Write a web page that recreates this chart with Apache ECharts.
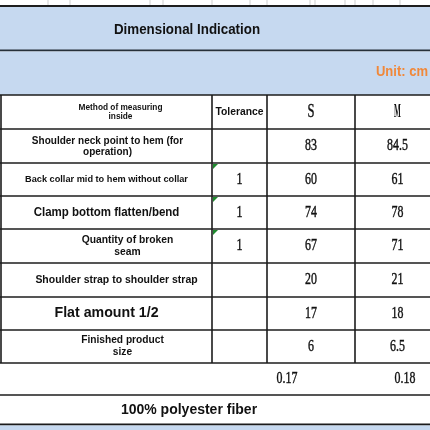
<!DOCTYPE html>
<html><head><meta charset="utf-8">
<script src="https://cdn.jsdelivr.net/npm/echarts@6/dist/echarts.min.js"></script>
<style>html,body{margin:0;padding:0;background:#fff;overflow:hidden}#c{width:430px;height:430px}</style>
</head><body><div id="c"></div>
<script>
// ---- data ----
const title = 'Dimensional Indication';
const unitLabel = 'Unit: cm';
const headers = ['Method of measuring\ninside', 'Tolerance', 'S', 'M'];
const measures = [
  'Shoulder neck point to hem (for\noperation)',
  'Back collar mid to hem without collar',
  'Clamp bottom flatten/bend',
  'Quantity of broken\nseam',
  'Shoulder strap to shoulder strap',
  'Flat amount 1/2',
  'Finished product\nsize'
];
const tolerance = ['', 1, 1, 1, '', '', ''];
const sizeS = [83, 60, 74, 67, 20, 17, 6];
const sizeM = [84.5, 61, 78, 71, 21, 18, 6.5];
const weights = [0.17, 0.18];
const material = '100% polyester fiber';

// ---- layout (pixels in a 430x430 value space) ----
const colEdges = [1, 212, 267, 355, 440];
const rowEdges = [95, 129, 163, 196, 229, 263, 297, 330, 363];
const LBL = '"Liberation Sans",Arial,sans-serif';
const NUM = '"Liberation Serif","Times New Roman",serif';
const NUM_FONT = '17px ' + NUM;
const NUM_SCALE = 0.7;
const labelFonts = [11, 9.2, 13, 10.3, 11.5, 14.2, 10.2];
const labelScale = [0.91, 1, 0.885, 1, 0.91, 1, 1];
const labelDx = [1, 0, 0, 21, 10, 0, 16];
const labelLH = [11, 11, 11, 12, 11, 11, 12];
const topTicks = [48, 70, 150, 163, 212, 250, 267, 310, 315, 345, 355, 373, 400];
const LINE = '#1c1c1c';

function cellInfo(c, r) {
  if (r === 0) {
    if (c === 0) return {text: headers[0], font: 'bold 8.3px ' + LBL, dx: 14, lh: 9, s: 1};
    if (c === 1) return {text: headers[1], font: 'bold 11px ' + LBL, dx: 0, lh: 11, s: 0.94};
    if (c === 2) return {text: headers[2], font: '18.5px ' + NUM, dx: 0, lh: 18, s: 0.68, num: true};
    return {text: headers[3], font: 'bold 18px ' + NUM, dx: 0, lh: 18, s: 0.4};
  }
  const i = r - 1;
  if (c === 0) return {text: measures[i], font: 'bold ' + labelFonts[i] + 'px ' + LBL, dx: labelDx[i], lh: labelLH[i], s: labelScale[i]};
  if (c === 1) return {text: String(tolerance[i]), font: NUM_FONT, dx: 0, lh: 17, s: NUM_SCALE, num: true};
  if (c === 2) return {text: String(sizeS[i]), font: NUM_FONT, dx: 0, lh: 17, s: NUM_SCALE, num: true};
  return {text: String(sizeM[i]), font: NUM_FONT, dx: 0, lh: 17, s: NUM_SCALE, num: true};
}

const cellData = [];
for (let r = 0; r < rowEdges.length - 1; r++) for (let c = 0; c < colEdges.length - 1; c++) cellData.push([c, r]);
const rowLineData = rowEdges.map((_, i) => [i, 0]);
const colLineData = colEdges.slice(0, 4).map((_, i) => [i, 0]);

function txt(text, p, font, align, s, fill, lh, num) {
  const style = {text: text, x: 0, y: 0, align: align, verticalAlign: 'middle', font: font, fill: fill || '#111', lineHeight: lh};
  if (num) { style.stroke = '#222'; style.lineWidth = 0.45; }
  return {type: 'text', x: p[0], y: p[1], scaleX: s, style: style};
}
function seg(a, b, w, col) {
  return {type: 'line', shape: {x1: a[0], y1: a[1], x2: b[0], y2: b[1]}, style: {stroke: col || LINE, lineWidth: w || 1.6}};
}

function renderRowLine(params, api) {
  const y = rowEdges[api.value(0)];
  return seg(api.coord([0, y]), api.coord([430, y]), 1.6);
}
function renderColLine(params, api) {
  const x = colEdges[api.value(0)];
  return seg(api.coord([x, rowEdges[0]]), api.coord([x, rowEdges[rowEdges.length - 1]]), 1.6);
}
function renderCell(params, api) {
  const c = api.value(0), r = api.value(1);
  const tl = api.coord([colEdges[c], rowEdges[r]]);
  const br = api.coord([colEdges[c + 1], rowEdges[r + 1]]);
  const info = cellInfo(c, r);
  const children = [
    txt(info.text, [(tl[0] + br[0]) / 2 + info.dx, (tl[1] + br[1]) / 2], info.font, 'center', info.s, '#111', info.lh, info.num)
  ];
  if (c === 1 && r > 0 && tolerance[r - 1] !== '') {
    children.push({type: 'polygon', shape: {points: [[tl[0] + 1, tl[1] + 1], [tl[0] + 6, tl[1] + 1], [tl[0] + 1, tl[1] + 6]]},
      style: {fill: '#1f8a2e'}});
  }
  return {type: 'group', children};
}

const BLUE = '#c6d9f0';
const bands = [0, 1, 2, 3, 4, 5];
function renderBand(params, api) {
  const k = api.value(0);
  const C = (x, y) => api.coord([x, y]);
  if (k === 0) { // faint top grid + thick line
    const ch = topTicks.map(x => seg(C(x, 0), C(x, 6), 1, '#cfcfcf'));
    ch.push(seg(C(0, 6), C(430, 6), 2, '#1e1e1e'));
    return {type: 'group', children: ch};
  }
  if (k === 1) {
    const a = C(0, 7), b = C(430, 50);
    return {type: 'group', children: [
      {type: 'rect', shape: {x: a[0], y: a[1], width: b[0] - a[0], height: b[1] - a[1]}, style: {fill: BLUE}},
      seg(C(0, 50.5), C(430, 50.5), 2, '#26303a'),
      txt(title, C(187, 29.5), 'bold 15px ' + LBL, 'center', 0.89)
    ]};
  }
  if (k === 2) {
    const a = C(0, 51.5), b = C(430, 95);
    return {type: 'group', children: [
      {type: 'rect', shape: {x: a[0], y: a[1], width: b[0] - a[0], height: b[1] - a[1]}, style: {fill: BLUE}},
      txt(unitLabel, C(428, 72), 'bold 14px ' + LBL, 'right', 0.93, '#f0883a')
    ]};
  }
  if (k === 3) {
    return {type: 'group', children: [
      seg(C(0, 395), C(430, 395), 1.6),
      txt(String(weights[0]), C(287, 379), NUM_FONT, 'center', NUM_SCALE, '#111', 17, true),
      txt(String(weights[1]), C(405, 379), NUM_FONT, 'center', NUM_SCALE, '#111', 17, true)
    ]};
  }
  if (k === 4) {
    return {type: 'group', children: [
      seg(C(0, 424.5), C(430, 424.5), 2),
      txt(material, C(189, 410), 'bold 14px ' + LBL, 'center', 1)
    ]};
  }
  const a = C(0, 425.5), b = C(430, 430);
  return {type: 'rect', shape: {x: a[0], y: a[1], width: b[0] - a[0], height: b[1] - a[1]}, style: {fill: BLUE}};
}

const chart = echarts.init(document.getElementById('c'), null, {renderer: 'canvas'});
chart.setOption({
  animation: false,
  backgroundColor: '#fff',
  grid: {left: 0, right: 0, top: 0, bottom: 0},
  xAxis: {type: 'value', min: 0, max: 430, show: false},
  yAxis: {type: 'value', min: 0, max: 430, inverse: true, show: false},
  series: [
    {type: 'custom', renderItem: renderBand, data: bands.map(k => [k, 0]), clip: false, silent: true},
    {type: 'custom', renderItem: renderRowLine, data: rowLineData, clip: false, silent: true},
    {type: 'custom', renderItem: renderColLine, data: colLineData, clip: false, silent: true},
    {type: 'custom', renderItem: renderCell, data: cellData, clip: false, silent: true}
  ]
});
</script></body></html>
